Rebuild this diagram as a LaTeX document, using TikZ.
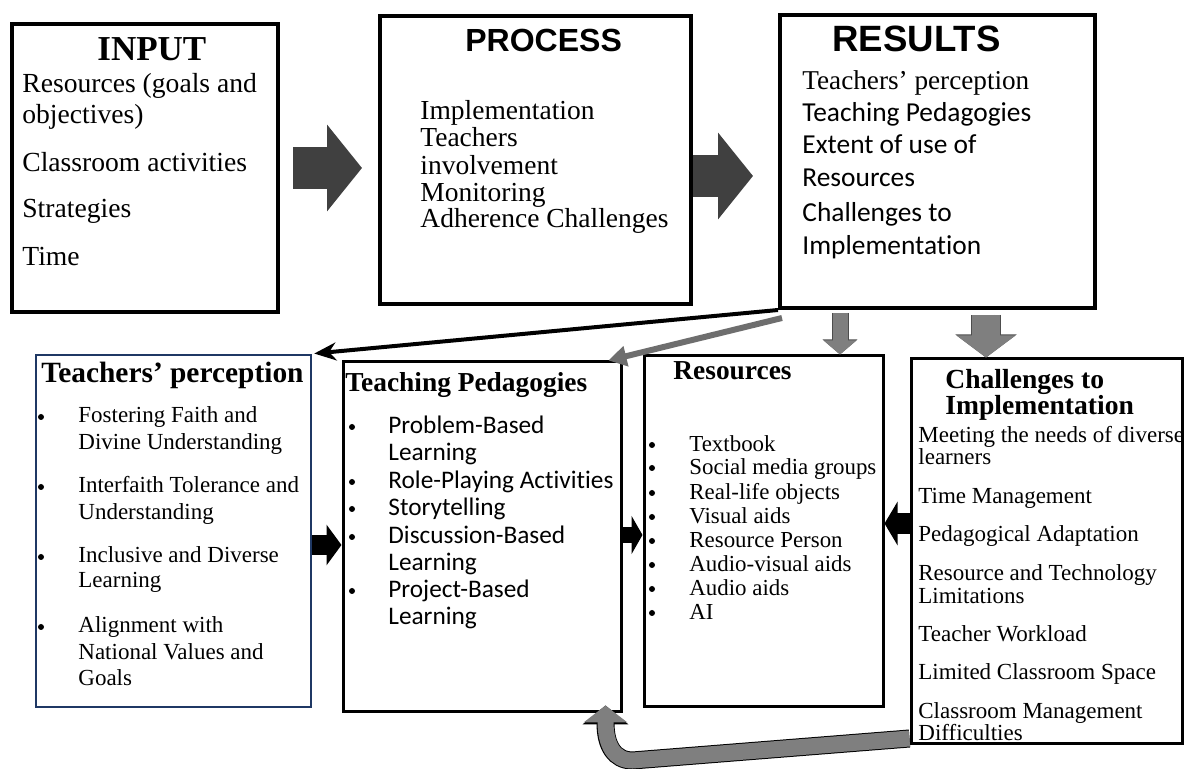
\documentclass[tikz,border=0pt]{standalone}
\usepackage{fontspec}
\setmainfont{Liberation Serif}
\newfontfamily\arialfont{Liberation Sans}
\newfontfamily\calibrifont{Carlito}[Ligatures=NoCommon]
\usetikzlibrary{arrows.meta}
\usetikzlibrary{fit}
\usetikzlibrary{calc}
\definecolor{DarkArrow}{HTML}{404040}
\definecolor{GrayArrow}{HTML}{7F7F7F}
\definecolor{EdgeGray}{HTML}{4D4D4D}
\definecolor{DiagGray}{HTML}{6E6E6E}
\definecolor{NavyLine}{HTML}{1F3864}
\tikzset{
  topbox/.style={draw=black,line width=2pt,inner sep=0pt},
  lowbox/.style={draw=black,line width=1.5pt,inner sep=0pt},
  txt/.style={anchor=base west,inner sep=0pt},
  dot/.style={circle,fill=black,inner sep=0pt,minimum size=3pt},
  darkarrow/.style={draw=DarkArrow,line width=21pt,-{Triangle[length=17.5pt,width=42.5pt]}},
  blackblock/.style={draw=black,line width=10pt,-{Triangle[length=7.5pt,width=20pt]}},
  graydown/.style={draw=GrayArrow,line width=7.5pt,-{Triangle[length=7pt,width=16pt]},
    preaction={draw=EdgeGray,line width=8.5pt,-{Triangle[length=7.5pt,width=17pt]}}},
  curvearrow/.style={draw=GrayArrow,line width=8pt,-{Triangle[length=8.5pt,width=21.5pt]},
    preaction={draw=black,line width=9pt,-{Triangle[length=9.5pt,width=22.5pt]}}}
}
\begin{document}
\begin{tikzpicture}[line cap=butt,line join=miter,x=0.5pt,y=-0.5pt]
\useasboundingbox (0,0) rectangle (1185,769);
% top row
\node[topbox,fit={(12,24) (278,312)}] (input) {};
\node[topbox,fit={(380,16) (691,304)}] (process) {};
\node[topbox,fit={(780,15) (1095,308)}] (results) {};
\node[txt,font=\bfseries\fontsize{17.5}{20}\selectfont] (inputtitle) at (97,61) {INPUT};
\node[txt,font=\arialfont\bfseries\fontsize{16}{19}\selectfont] (processtitle) at (465,52) {PROCESS};
\node[txt,font=\arialfont\bfseries\fontsize{18.3}{21}\selectfont] (resultstitle) at (832,52) {RESULTS};
\foreach \y/\s in {93/Resources (goals and,124/objectives),172/Classroom activities,218/Strategies,266/Time}
  \node[txt,font=\fontsize{13.8}{16}\selectfont] (in-\y) at (22,\y) {\s};
\foreach \y/\s in {120/Implementation,147/Teachers,175/involvement,202/Monitoring,228/Adherence Challenges}
  \node[txt,font=\fontsize{13.75}{16}\selectfont] (pr-\y) at (420,\y) {\s};
\node[txt,font=\fontsize{13.6}{16}\selectfont] (re-90) at (802,90) {Teachers’ perception};
\foreach \y/\s in {122/Teaching Pedagogies,154/Extent of use of,187/Resources,222/Challenges to,255/Implementation}
  \node[txt,font=\calibrifont\fontsize{13.7}{16}\selectfont] (re-\y) at (802,\y) {\s};
% bottom row
\node[lowbox,draw=NavyLine,line width=1.25pt,fit={(36,355) (311,707)}] (percep) {};
\node[lowbox,fit={(343,362) (621,712)}] (pedag) {};
\node[lowbox,fit={(644,356) (883,707)}] (resour) {};
\node[lowbox,fit={(911,359) (1182,744)}] (chall) {};
\node[txt,font=\bfseries\fontsize{14.7}{17}\selectfont] (perceptitle) at (41,383) {Teachers’ perception};
\foreach \y/\s in {423/Fostering Faith and,450/Divine Understanding,493/Interfaith Tolerance and,520/Understanding,563/Inclusive and Diverse,588/Learning,633/Alignment with,660/National Values and,686/Goals}
  \node[txt,font=\fontsize{11.5}{14}\selectfont] (pe-\y) at (78,\y) {\s};
\foreach \y in {417,487,557,627}
  \node[dot] (peb-\y) at (41,\y) {};
\node[txt,font=\bfseries\fontsize{13.7}{16}\selectfont] (pedagtitle) at (345,392) {Teaching Pedagogies};
\foreach \y/\s in {434/Problem-Based,461/Learning,489/Role-Playing Activities,516/Storytelling,544/Discussion-Based,571/Learning,598/Project-Based,625/Learning}
  \node[txt,font=\calibrifont\fontsize{12.65}{15}\selectfont] (pd-\y) at (388,\y) {\s};
\foreach \y in {427,482,509,537,591}
  \node[dot] (pdb-\y) at (352,\y) {};
\node[txt,font=\bfseries\fontsize{13.7}{16}\selectfont] (resourtitle) at (673,380) {Resources};
\foreach \y/\s in {452/Textbook,475/Social media groups,500/Real-life objects,524/Visual aids,548/Resource Person,572/Audio-visual aids,596/Audio aids,620/AI}
  {\node[txt,font=\fontsize{11.45}{14}\selectfont] (rs-\y) at (689,\y) {\s};
   \node[dot] (rsb-\y) at (652,\y-7) {};}
\node[txt,font=\bfseries\fontsize{13.8}{16}\selectfont] (challtitle) at (945,389) {Challenges to};
\node[txt,font=\bfseries\fontsize{13.8}{16}\selectfont] (challtitleb) at (945,415) {Implementation};
\foreach \y/\s in {443/Meeting the needs of diverse,465/learners,504/Time Management,542/Pedagogical Adaptation,581/Resource and Technology,604/Limitations,642/Teacher Workload,680/Limited Classroom Space,719/Classroom Management,741/Difficulties}
  \node[txt,font=\fontsize{11.5}{14}\selectfont] (ch-\y) at (918,\y) {\s};
% arrows
\draw[darkarrow,shorten <=6.5pt,shorten >=8pt] (input.east) -- (input.east -| process.west);
\draw[darkarrow,shorten >=12.5pt] ([yshift=-8pt]process.east) -- ([yshift=-8pt]process.east -| results.west);
\draw[line width=2pt,-{Stealth[length=11pt,width=9pt]},shorten >=1pt] (results.south west) -- (percep.north east);
\draw[draw=DiagGray,line width=3pt,-{Triangle[length=9pt,width=10pt]}] ([shift={(2pt,-4pt)}]results.south west) -- ([xshift=-7pt]pedag.north east);
\draw[graydown,shorten <=1.5pt] ([xshift=31pt]results.south west) -- ([xshift=31pt]results.south west |- resour.north);
\draw[graydown,line width=14pt,-{Triangle[length=11pt,width=29pt]},
  preaction={draw=EdgeGray,line width=15pt,-{Triangle[length=11.5pt,width=30pt]}},shorten <=2.5pt]
  ([xshift=104pt]results.south west) -- ([xshift=104pt]results.south west |- chall.north);
\draw[blackblock] ([yshift=-7pt]percep.east) -- ([yshift=-7pt]percep.east -| pedag.west);
\draw[blackblock,line width=8pt,-{Triangle[length=5.5pt,width=19pt]}] ([yshift=1pt]pedag.east) -- ([yshift=1pt]pedag.east -| resour.west);
\draw[blackblock,line width=10.5pt,-{Triangle[length=6.5pt,width=21.5pt]}] ([yshift=14pt]chall.west) -- ([yshift=14pt]chall.west -| resour.east);
\draw[curvearrow] ([yshift=3.5pt]chall.south west) -- ++(-277,22) .. controls +(-18,0) and +(0,40) .. ([shift={(-8.5pt,4pt)}]pedag.south east);
\end{tikzpicture}
\end{document}
